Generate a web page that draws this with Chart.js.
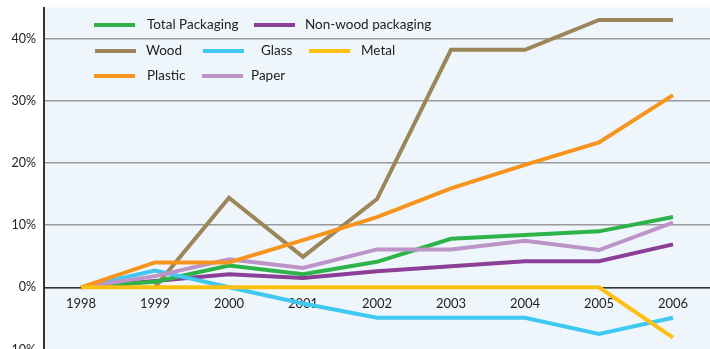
<!DOCTYPE html>
<html>
<head>
<meta charset="utf-8">
<script src="https://cdn.jsdelivr.net/npm/chart.js@4/dist/chart.umd.min.js"></script>
<style>
  html, body { margin: 0; padding: 0; background: #fff; overflow: hidden; }
  #wrap { width: 710px; height: 373px; margin-top: -8px; position: relative; }
</style>
</head>
<body>
<div id="wrap"><canvas id="packChart"></canvas></div>
<script>
// years on the x axis
var years = ["1998", "1999", "2000", "2001", "2002", "2003", "2004", "2005", "2006"];
// y ticks (percent)
var yTicks = [-10, 0, 10, 20, 30, 40];

// change since 1998, %
var totalPackaging = [0, 0.9, 3.5, 2.1, 4.1, 7.8, 8.4, 9.0, 11.3];
var nonWood = [0, 1.0, 2.1, 1.5, 2.6, 3.4, 4.2, 4.2, 6.9];
var wood = [null, 0, 14.4, 4.9, 14.2, 38.2, 38.2, 43.0, 43.0];
var glass = [0, 2.7, 0, -2.6, -4.9, -4.9, -4.9, -7.5, -4.9];
var metal = [0, 0, 0, 0, 0, 0, 0, 0, -8.1];
var plastic = [0, 4.0, 4.0, 7.6, 11.3, 15.9, 19.7, 23.3, 30.9];
var paper = [0, 1.8, 4.5, 3.1, 6.1, 6.1, 7.5, 6.0, 10.4];

var fontName = "Lato, 'DejaVu Sans', sans-serif";

function makeLine(label, data, color, order) {
  return {
    label: label,
    data: data,
    borderColor: color,
    backgroundColor: color,
    borderWidth: 4,
    pointRadius: 0,
    tension: 0,
    fill: false,
    order: order
  };
}

// plot background
const plotBg = {
  id: "plotBg",
  beforeDraw(chart) {
    const a = chart.chartArea;
    const c = chart.ctx;
    c.save();
    c.fillStyle = "#eef6fc";
    c.fillRect(a.left, a.top, a.right - a.left, a.bottom - a.top);
    c.restore();
  }
};

// legend laid out like the original (3 rows inside the plot)
// canvas is shifted up 8px, so y values here are +8
const fixedLegend = {
  id: "fixedLegend",
  afterDraw(chart) {
    const c = chart.ctx;
    const rows = [
      [[0, 94, 147], [1, 254, 305]],
      [[2, 95, 146], [3, 203, 261], [4, 309, 361]],
      [[5, 94, 147], [6, 202, 251]]
    ];
    const rowY = [33, 59, 84];
    c.save();
    c.font = "13.5px " + fontName;
    c.textBaseline = "middle";
    c.fillStyle = "#222";
    rows.forEach(function (row, r) {
      row.forEach(function (it) {
        const ds = chart.data.datasets[it[0]];
        c.strokeStyle = ds.borderColor;
        c.lineWidth = 4;
        c.beginPath();
        c.moveTo(it[1], rowY[r]);
        c.lineTo(it[1] + 41, rowY[r]);
        c.stroke();
        c.fillText(ds.label, it[2], rowY[r]);
      });
    });
    c.restore();
  }
};

var ctx = document.getElementById("packChart").getContext("2d");
var packChart = new Chart(ctx, {
  type: "line",
  data: {
    labels: years,
    datasets: [
      makeLine("Total Packaging", totalPackaging, "#2db34a", 4),
      makeLine("Non-wood packaging", nonWood, "#8c3f96", 5),
      makeLine("Wood", wood, "#9c8559", 6),
      makeLine("Glass", glass, "#41c8f0", 3),
      makeLine("Metal", metal, "#fdbf10", 0),
      makeLine("Plastic", plastic, "#f7941d", 1),
      makeLine("Paper", paper, "#bc94c8", 2)
    ]
  },
  options: {
    responsive: true,
    maintainAspectRatio: false,
    animation: false,
    plugins: {
      legend: { display: false },
      tooltip: { enabled: false }
    },
    scales: {
      x: {
        position: { y: 0 },
        offset: true,
        grid: { display: false, drawTicks: false },
        border: { display: true, color: "#333", width: 1.5 },
        ticks: {
          color: "#222",
          padding: 9,
          maxRotation: 0,
          font: { family: fontName, size: 13 }
        }
      },
      y: {
        min: -10,
        max: 45,
        afterBuildTicks: function (scale) {
          scale.ticks = yTicks.map(function (v) { return { value: v }; });
        },
        afterFit: function (scale) {
          scale.width = 44;
        },
        grid: { color: "#9a9a9a", lineWidth: 1.5, drawTicks: false },
        border: { display: true, color: "#333", width: 2 },
        ticks: {
          color: "#222",
          padding: 8,
          font: { family: fontName, size: 12.5 },
          callback: function (v) { return v + "%"; }
        }
      }
    }
  },
  plugins: [plotBg, fixedLegend]
});
</script>
</body>
</html>
